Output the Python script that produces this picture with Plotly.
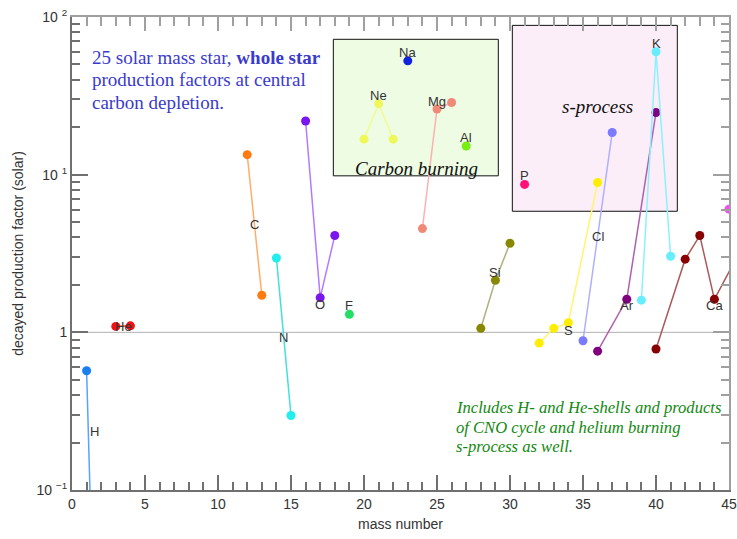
import plotly.graph_objects as go
import math

# ---- data (mass number, decayed production factor) ----
H_A = [1, 2];            H_pf = [0.571, 3e-4]
He_A = [3, 4];           He_pf = [1.09, 1.10]
C_A = [12, 13];          C_pf = [13.4, 1.72]
N_A = [14, 15];          N_pf = [2.96, 0.297]
O_A = [16, 17, 18];      O_pf = [21.9, 1.66, 4.11]
F_A = [19];              F_pf = [1.30]
Ne_A = [20, 21, 22];     Ne_pf = [16.8, 28.2, 16.8]
Na_A = [23];             Na_pf = [52.7]
Mg_A = [24, 25, 26];     Mg_pf = [4.55, 26.1, 28.7]
Al_A = [27];             Al_pf = [15.2]
Si_A = [28, 29, 30];     Si_pf = [1.06, 2.14, 3.67]
P_A = [31];              P_pf = [8.67]
S_A = [32, 33, 34, 36];  S_pf = [0.855, 1.06, 1.15, 8.92]
Cl_A = [35, 37];         Cl_pf = [0.885, 18.5]
Ar_A = [36, 38, 40];     Ar_pf = [0.76, 1.62, 24.8]
K_A = [39, 40, 41];      K_pf = [1.60, 60.2, 3.04]
Ca_A = [40, 42, 43, 44, 46]; Ca_pf = [0.784, 2.91, 4.11, 1.62, 3.6]
Sc_A = [45];             Sc_pf = [6.04]

label_names = ["H", "He", "C", "N", "O", "F", "Ne", "Na", "Mg", "Al", "Si", "P", "S", "Cl", "Ar", "K", "Ca"]
label_x = [1.55, 3.56, 12.53, 14.47, 17.0, 19.0, 21.0, 23.0, 25.0, 27.0, 28.97, 31.0, 34.0, 36.05, 38.0, 40.0, 44.0]
label_y = [0.236, 1.09, 4.8, 0.925, 1.5, 1.48, 31.8, 59.3, 29.2, 17.2, 2.39, 9.9, 1.03, 4.05, 1.47, 68, 1.47]

x_ticks = [0, 5, 10, 15, 20, 25, 30, 35, 40, 45]
x_minor = [i for i in range(0, 46) if i % 5 != 0]
y_ticks = [0.1, 1, 10, 100]
y_ticktext = ["10 <sup>−1</sup>", "1", "10 <sup>1</sup>", "10 <sup>2</sup>"]
y_minor = [m * 10 ** k for k in (-1, 0, 1) for m in range(2, 10)]

blue_lines = ["25 solar mass star, <b>whole star</b>", "production factors at central", "carbon depletion."]
green_lines = ["Includes H- and He-shells and products", "of CNO cycle and helium burning", "s-process as well."]

series = [
    (H_A, H_pf, "#1a7ff0", "#5aa2ff"),
    (He_A, He_pf, "#ee1111", "#ee3333"),
    (C_A, C_pf, "#ff7a10", "#ffae6a"),
    (N_A, N_pf, "#22eeee", "#44dede"),
    (O_A, O_pf, "#7a16ee", "#b07cff"),
    (F_A, F_pf, "#22dd66", "#22dd66"),
    (Ne_A, Ne_pf, "#eef858", "#f2fc90"),
    (Na_A, Na_pf, "#1122dd", "#1122dd"),
    (Mg_A, Mg_pf, "#f08a78", "#ffb0b0"),
    (Al_A, Al_pf, "#77ee11", "#77ee11"),
    (Si_A, Si_pf, "#888800", "#b0b080"),
    (P_A, P_pf, "#ff1177", "#ff1177"),
    (S_A, S_pf, "#ffee00", "#fff570"),
    (Cl_A, Cl_pf, "#7b7bff", "#b0b0ff"),
    (Ar_A, Ar_pf, "#800080", "#b060b0"),
    (K_A, K_pf, "#66eeff", "#8ef0ff"),
    (Ca_A, Ca_pf, "#880000", "#aa5a5a"),
    (Sc_A, Sc_pf, "#ff44ff", "#ff44ff"),
]

fig = go.Figure()
for A, pf, mc, lc in series:
    fig.add_trace(go.Scatter(
        x=A, y=pf, mode="lines+markers",
        line=dict(color=lc, width=1.5),
        marker=dict(color=mc, size=9),
        showlegend=False, cliponaxis=True,
    ))
# invisible traces that activate the extra tick-only axes (top/right mirrors and minor ticks)
for k in (2, 3, 4):
    fig.add_trace(go.Scatter(x=[0], y=[1], xaxis="x%d" % k, yaxis="y%d" % k, mode="markers",
                             marker=dict(opacity=0), showlegend=False, hoverinfo="skip"))

# boxes (shape coordinates in data units)
fig.add_shape(type="rect", xref="x", yref="y", x0=17.9, x1=29.2, y0=9.83, y1=72.2,
              fillcolor="#eefce4", line=dict(color="#111111", width=1), layer="below")
fig.add_shape(type="rect", xref="x", yref="y", x0=30.16, x1=41.46, y0=5.86, y1=88.5,
              fillcolor="#fbeef8", line=dict(color="#111111", width=1), layer="below")
# line at 1
fig.add_shape(type="line", xref="paper", yref="y", x0=0, x1=1, y0=1, y1=1,
              line=dict(color="#b0b0b0", width=1), layer="below")

for n, x, y in zip(label_names, label_x, label_y):
    fig.add_annotation(x=x, y=math.log10(y), xref="x", yref="y", text=n,
                       showarrow=False, font=dict(family="Liberation Sans", size=13, color="#333333"))

for i, t in enumerate(blue_lines):
    fig.add_annotation(xref="paper", yref="paper", x=0.027, y=(490 - 57.5 - 22.3 * i) / 473,
                       xanchor="left", yanchor="middle", align="left", showarrow=False, text=t,
                       font=dict(family="Liberation Serif", size=19, color="#3a3acc"))
for i, t in enumerate(green_lines):
    fig.add_annotation(xref="paper", yref="paper", x=0.581, y=(490 - 407.7 - 19.5 * i) / 473,
                       xanchor="left", yanchor="middle", align="left", showarrow=False,
                       text="<i>" + t + "</i>",
                       font=dict(family="Liberation Serif", size=16.6, color="#118811"))
fig.add_annotation(xref="paper", yref="paper", x=0.5236, y=0.706, showarrow=False,
                   text="<i>Carbon burning</i>",
                   font=dict(family="Liberation Serif", size=19, color="#111111"))
fig.add_annotation(xref="paper", yref="paper", x=0.857, y=0.837, showarrow=False,
                   text="<i>s-process</i>",
                   font=dict(family="Liberation Serif", size=19, color="#111111"))


def xax(vals, tlen, col, showline):
    return dict(range=[0, 45], tickmode="array", tickvals=vals, ticks="inside", ticklen=tlen,
                tickwidth=1.5, tickcolor=col, showline=showline, linecolor=col, linewidth=2,
                showgrid=False, zeroline=False, automargin=False)


def yax(vals, tlen, col, showline):
    return dict(type="log", range=[-1, 2], tickmode="array", tickvals=vals, ticks="inside",
                ticklen=tlen, tickwidth=1.5, tickcolor=col, showline=showline, linecolor=col,
                linewidth=2, showgrid=False, zeroline=False, automargin=False)


axfont = dict(family="Liberation Sans", size=14, color="#333333")
fig.update_layout(
    xaxis=dict(**xax(x_ticks, 15, "#707070", True), tickfont=axfont,
               title=dict(text="mass number", standoff=8, font=axfont)),
    yaxis=dict(**yax(y_ticks, 16, "#707070", True), ticktext=y_ticktext, tickfont=axfont,
               title=dict(text="decayed production factor (solar)", standoff=10, font=axfont)),
    xaxis2=dict(**xax(x_ticks, 14, "#a0a0a0", True), overlaying="x", side="top", anchor="y",
                showticklabels=False),
    yaxis2=dict(**yax(y_ticks, 16, "#a0a0a0", True), overlaying="y", side="right", anchor="x",
                showticklabels=False),
    xaxis3=dict(**xax(x_minor, 8, "#707070", False), overlaying="x", side="bottom", anchor="y",
                showticklabels=False),
    yaxis3=dict(**yax(y_minor, 8, "#707070", False), overlaying="y", side="left", anchor="x",
                showticklabels=False),
    xaxis4=dict(**xax(x_minor, 9, "#a0a0a0", False), overlaying="x", side="top", anchor="y",
                showticklabels=False),
    yaxis4=dict(**yax(y_minor, 8, "#a0a0a0", False), overlaying="y", side="right", anchor="x",
                showticklabels=False),
    width=737, height=539, margin=dict(l=72, r=8, t=17, b=49),
    plot_bgcolor="white", paper_bgcolor="white",
)

fig.write_html("out.html")
